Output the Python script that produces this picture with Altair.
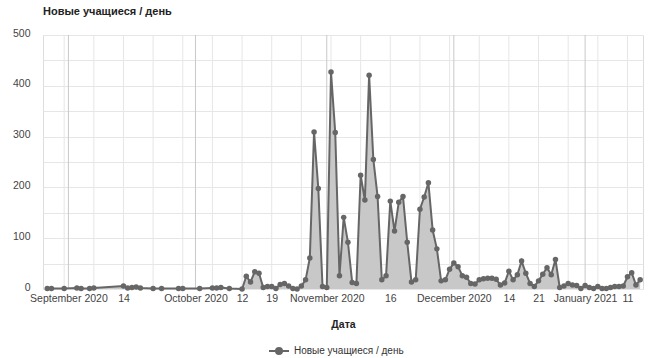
import altair as alt
import pandas as pd

SERIES = "Новые учащиеся / день"

# Sparse early observations
early_dates = ["2020-08-27", "2020-08-28", "2020-08-31", "2020-09-03", "2020-09-04",
               "2020-09-06", "2020-09-07", "2020-09-14", "2020-09-15", "2020-09-16",
               "2020-09-17", "2020-09-18", "2020-09-21", "2020-09-23", "2020-09-27",
               "2020-09-28", "2020-10-02", "2020-10-05", "2020-10-06", "2020-10-07",
               "2020-10-09"]
early_values = [1, 1, 1, 2, 1, 1, 2, 6, 2, 3, 4, 2, 1, 1, 1, 1, 1, 2, 2, 3, 1]

# Daily observations from 2020-10-12 to 2021-01-14
daily_start = "2020-10-12"
daily_values = [0, 25, 14, 34, 31, 3, 5, 5, 1, 9,
                11, 6, 1, 0, 6, 18, 61, 309, 198, 5,
                3, 427, 308, 26, 141, 92, 13, 11, 224, 175,
                421, 255, 182, 18, 26, 173, 114, 171, 182, 92,
                14, 18, 157, 181, 209, 116, 79, 16, 18, 39,
                51, 44, 26, 23, 11, 10, 18, 20, 21, 21,
                19, 8, 12, 35, 18, 28, 55, 31, 11, 5,
                16, 29, 42, 28, 58, 3, 6, 11, 8, 7,
                1, 7, 3, 1, 5, 1, 1, 3, 5, 5,
                6, 24, 32, 8, 18]
daily_dates = [d.strftime("%Y-%m-%d") for d in pd.date_range(daily_start, periods=len(daily_values))]

# Axis tick positions (labels derived from dates)
tick_dates = ["2020-09-01", "2020-09-14", "2020-10-01", "2020-10-12", "2020-10-19",
              "2020-11-01", "2020-11-16", "2020-12-01", "2020-12-14", "2020-12-21",
              "2021-01-01", "2021-01-11"]
month_starts = ["2020-09-01", "2020-10-01", "2020-11-01", "2020-12-01", "2021-01-01"]
week_lines = [d.strftime("%Y-%m-%d") for d in pd.date_range("2020-08-31", "2021-01-11", freq="7D")]

df = pd.DataFrame({"date": early_dates + daily_dates,
                   "value": early_values + daily_values,
                   "series": SERIES})
weeks_df = pd.DataFrame({"date": week_lines})
months_df = pd.DataFrame({"date": month_starts})

FONT = "Liberation Sans"


def dt(s):
    y, m, d = map(int, s.split("-"))
    return alt.DateTime(year=y, month=m, date=d, utc=True)


xscale = alt.Scale(type="utc", domain=[dt("2020-08-26"), alt.DateTime(year=2021, month=1, date=14, hours=16, utc=True)], nice=False)
xaxis = alt.Axis(values=[dt(s) for s in tick_dates],
                 labelExpr="utcdate(datum.value) == 1 ? utcFormat(datum.value, '%B %Y') : utcFormat(datum.value, '%-d')",
                 grid=False, ticks=False, domain=False, labelOverlap=False, labelFlush=False,
                 labelFont=FONT, labelFontSize=10.5, labelColor="#444", labelPadding=4,
                 titleFont=FONT, titleFontSize=10.5, titleFontWeight="bold", titleColor="#222",
                 titlePadding=16)
X = alt.X("date:T", scale=xscale, axis=xaxis, title="Дата")

yaxis = alt.Axis(values=list(range(0, 501, 50)),
                 labelExpr="datum.value % 100 === 0 ? datum.label : ''",
                 grid=True, gridColor="#e6e6e6", ticks=False, domain=False,
                 labelFont=FONT, labelFontSize=10.5, labelColor="#444", labelPadding=13,
                 labelBaseline="middle", labelOffset=-2)
Y = alt.Y("value:Q", scale=alt.Scale(domain=[0, 500], nice=False), axis=yaxis, title=None)

week_rules = alt.Chart(weeks_df).mark_rule(color="#e6e6e6", strokeWidth=1).encode(x=X)
month_rules = alt.Chart(months_df).mark_rule(color="#c9c9c9", strokeWidth=1).encode(x=X)

base = alt.Chart(df).encode(x=X, y=Y)
area = base.mark_area(color="#c8c8c8", opacity=1)
line = base.mark_line(strokeWidth=2).encode(
    color=alt.Color("series:N", scale=alt.Scale(range=["#666666"]),
                    legend=alt.Legend(title=None, orient="none", legendX=225, legendY=305,
                                      symbolType="M-1,0L1,0M-0.3,0A0.3,0.3,0,1,0,0.3,0A0.3,0.3,0,1,0,-0.3,0Z",
                                      symbolSize=400, symbolStrokeWidth=2, symbolFillColor="#666666",
                                      labelFont=FONT, labelFontSize=10, labelColor="#333"))
)
points = base.mark_circle(size=30, color="#666666", opacity=1)

chart = alt.layer(week_rules, month_rules, area, line, points).properties(
    width=600, height=254,
    title=alt.Title(SERIES, anchor="start", frame="group", font=FONT, fontSize=11,
                    fontWeight="bold", color="#222", offset=11),
    autosize=alt.AutoSizeParams(type="none"),
    padding={"left": 43, "top": 35, "right": 5, "bottom": 69},
).configure_view(stroke=None).configure(background="white")

chart.save("out.html", embed_options={"renderer": "svg", "actions": False})
